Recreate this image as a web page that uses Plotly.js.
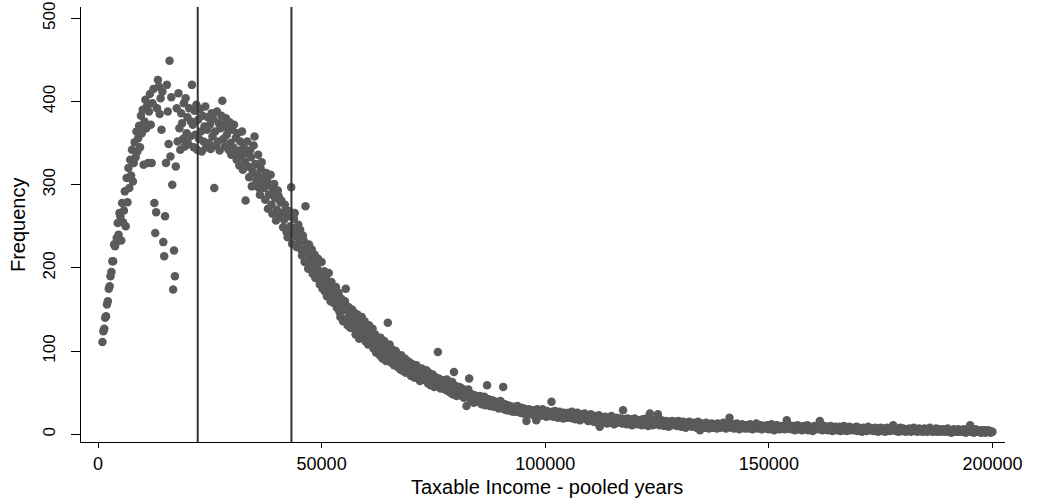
<!DOCTYPE html>
<html>
<head>
<meta charset="utf-8">
<script src="https://cdn.plot.ly/plotly-3.0.1.min.js"></script>
<style>html,body{margin:0;padding:0;background:#fff;}#chart{width:1043px;height:503px;}</style>
</head>
<body>
<div id="chart"></div>
<script>
// Histogram bins: start of first bin and bin width (taxable income)
const binStart = 1000;
const binWidth = 200;

// Frequency per bin (20 bins per row)
const frequency = [
111,124,127,140,142,156,160,175,178,190,195,208,208,228,226,230,236,254,240,266,
262,233,278,255,269,292,250,308,279,320,296,330,311,342,304,326,351,333,364,340,
356,371,345,383,362,390,324,376,402,368,395,326,388,409,372,326,398,415,278,242,
267,392,426,418,385,404,366,412,231,214,262,326,420,388,349,449,334,405,300,174,
221,190,322,392,352,410,368,342,386,374,355,398,346,404,362,381,349,392,358,376,
420,372,345,389,360,396,342,378,355,391,364,340,383,352,370,394,345,366,381,350,
372,343,386,358,379,296,364,347,388,352,374,341,368,383,401,355,372,346,380,360,
368,342,375,350,336,366,345,372,338,356,330,362,341,323,352,335,364,318,344,328,
281,338,352,322,309,341,333,298,316,347,358,325,304,311,336,296,288,319,327,301,
309,296,282,314,305,271,288,299,312,276,265,292,301,284,257,270,293,286,262,279,
281,266,249,258,276,270,243,237,262,268,250,297,229,244,259,266,238,225,247,252,
231,246,222,215,239,233,207,274,225,218,199,228,214,206,222,193,201,216,188,209,
200,211,186,180,194,207,175,183,196,171,188,166,179,194,172,160,183,176,158,170,
166,177,152,159,170,147,141,163,155,136,149,160,175,139,131,153,146,128,142,150,
134,147,126,120,139,144,121,115,133,128,141,117,124,136,112,129,120,108,131,117,
122,111,127,103,117,120,98,108,114,101,95,116,106,91,104,112,96,88,103,134,
99,108,91,86,102,95,83,97,100,88,81,93,86,78,95,89,76,84,91,74,
82,88,75,79,86,70,73,84,77,68,80,83,69,72,78,64,74,79,66,70,
72,65,77,68,61,74,70,59,66,72,63,57,69,64,58,99,67,60,55,63,
62,57,65,54,59,66,52,58,61,50,56,63,48,75,53,58,46,55,51,57,
53,47,55,50,44,52,46,34,49,54,67,43,41,48,45,38,47,42,44,39,
44,39,46,41,36,43,38,45,35,40,59,37,42,34,39,36,41,33,38,35,
39,34,37,31,36,40,33,35,57,30,36,32,29,35,31,34,28,33,30,27,
33,29,31,27,34,28,30,26,32,29,25,31,27,30,16,28,24,30,26,29,
25,29,23,28,26,17,30,24,27,22,28,25,30,23,27,24,21,28,25,22,
26,23,39,27,21,25,28,22,26,20,24,27,21,25,23,19,26,22,24,20,
23,26,20,24,21,27,19,23,25,18,22,26,20,23,17,21,24,19,22,25,
20,18,23,16,21,19,24,17,20,15,22,18,21,14,19,23,9,18,20,16,
19,15,21,17,13,18,20,14,17,22,15,18,12,19,16,20,14,17,15,19,
16,13,29,18,14,17,12,19,15,13,18,16,11,17,14,19,13,16,12,15,
17,13,15,11,18,14,16,12,19,14,10,16,25,13,15,11,17,14,12,16,
13,24,15,11,14,17,12,15,10,13,16,12,14,9,15,13,11,16,12,14,
12,15,10,13,16,11,14,9,12,15,11,13,8,14,12,10,15,11,13,9,
12,14,10,13,8,11,15,10,5,12,9,13,11,8,12,14,9,11,7,12,
10,13,8,11,9,12,10,7,13,9,11,8,12,10,14,9,11,7,10,12,
9,20,11,8,10,12,7,10,9,13,8,10,6,11,9,12,8,10,7,11,
9,11,7,10,12,8,10,6,9,11,8,13,9,7,10,8,11,6,9,10,
8,10,7,11,9,6,10,8,12,7,9,5,10,8,11,7,9,6,10,8,
9,7,10,6,8,17,9,7,11,8,6,9,10,7,5,9,8,11,6,8,
7,9,5,8,10,6,8,7,11,5,8,9,6,8,4,7,10,6,8,7,
8,6,16,7,9,5,8,10,6,7,9,5,8,6,10,7,4,8,6,9,
7,5,8,6,9,4,7,8,5,10,6,7,4,8,6,9,5,7,6,8,
5,7,6,9,4,6,8,5,7,3,6,8,5,7,4,6,9,5,7,6,
5,7,4,6,8,5,6,3,7,5,8,4,6,5,7,3,6,8,5,6,
4,6,5,7,11,5,6,4,7,5,3,6,8,4,5,7,4,6,3,5,
6,4,7,5,3,6,5,8,4,5,6,3,5,7,4,5,6,3,5,7,
4,5,3,6,5,8,4,5,3,6,4,5,7,3,5,4,6,3,5,4,
6,4,3,5,4,7,3,5,4,2,5,4,6,3,4,5,3,6,4,3,
5,4,3,6,4,2,5,4,3,5,11,4,3,5,2,4,6,3,4,5,
3,4,2,5,4,3,5,2,4,3,5,3,4,2,3,3
];

// Bin positions on the income axis
const income = frequency.map((_, i) => binStart + binWidth * i);

// Reference lines on the income axis
const vlines = [22300, 43250];

const xTicks = [0, 50000, 100000, 150000, 200000];
const yTicks = [0, 100, 200, 300, 400, 500];
const xTitle = 'Taxable Income - pooled years';
const yTitle = 'Frequency';

const font = "'Liberation Sans', Arial, Helvetica, sans-serif";

const trace = {
  type: 'scatter',
  mode: 'markers',
  x: income,
  y: frequency,
  marker: {size: 8.5, color: 'rgb(90,90,90)', line: {width: 0}},
  hoverinfo: 'x+y'
};

const layout = {
  width: 1043,
  height: 503,
  margin: {l: 81, r: 38, t: 7, b: 61},
  paper_bgcolor: '#fff',
  plot_bgcolor: '#fff',
  showlegend: false,
  font: {family: font, color: '#000'},
  xaxis: {
    range: [-3800, 202800],
    tickvals: xTicks,
    ticktext: xTicks.map(String),
    ticks: 'outside', ticklen: 5, tickwidth: 1, tickcolor: '#000',
    showline: true, linecolor: '#000', linewidth: 1,
    showgrid: false, zeroline: false,
    tickfont: {size: 18, family: font, color: '#000'}
  },
  yaxis: {
    range: [-9.25, 513.6],
    tickvals: yTicks,
    ticktext: yTicks.map(String),
    tickangle: -90,
    ticks: 'outside', ticklen: 9, tickwidth: 1, tickcolor: '#000',
    ticklabelstandoff: 9,
    showline: true, linecolor: '#000', linewidth: 1,
    showgrid: false, zeroline: false,
    tickfont: {size: 17, family: font, color: '#000'}
  },
  annotations: [
    {text: xTitle, xref: 'paper', yref: 'paper', x: 0.5038, y: -0.1034,
     xanchor: 'center', yanchor: 'middle', showarrow: false,
     font: {size: 20, family: font, color: '#000'}},
    {text: yTitle, xref: 'paper', yref: 'paper', x: -0.0682, y: 0.501, textangle: -90,
     xanchor: 'center', yanchor: 'middle', showarrow: false,
     font: {size: 20, family: font, color: '#000'}}
  ],
  shapes: vlines.map(v => ({
    type: 'line', xref: 'x', yref: 'paper', x0: v, x1: v, y0: 0, y1: 1,
    line: {color: '#333', width: 2}
  }))
};

Plotly.newPlot('chart', [trace], layout, {displayModeBar: false, staticPlot: true});
</script>
</body>
</html>
